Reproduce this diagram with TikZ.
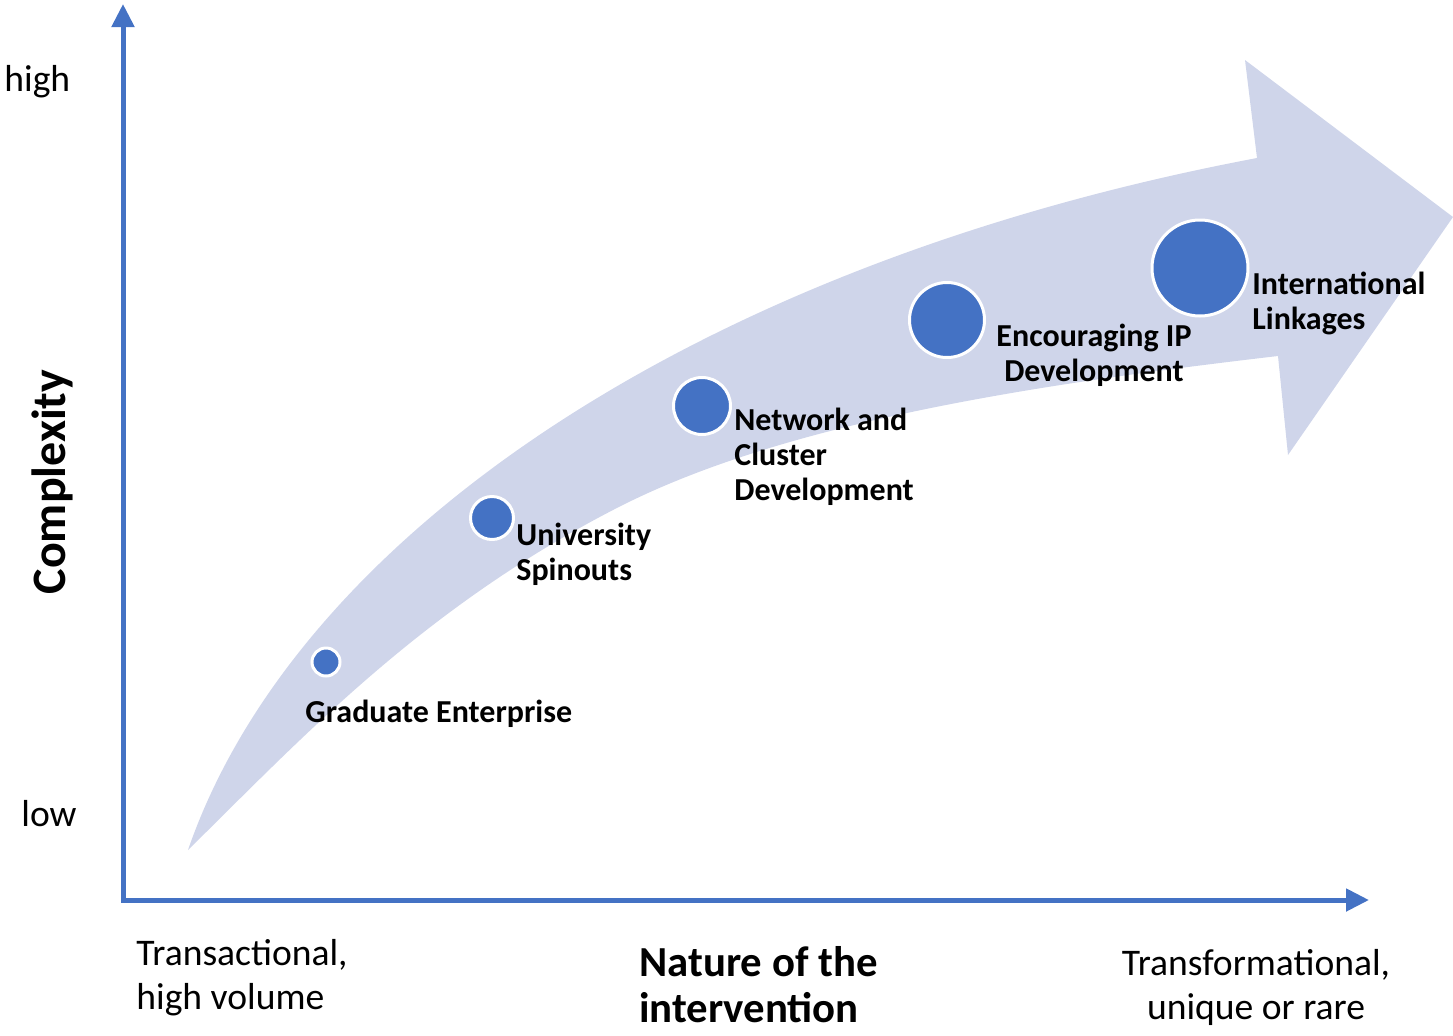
\documentclass[tikz,border=0pt]{standalone}
\usepackage{fontspec}
\setmainfont{Carlito}
\usepackage{xcolor}
\usetikzlibrary{arrows.meta}
\usetikzlibrary{positioning, calc}
\definecolor{axisblue}{RGB}{68,114,196}
\definecolor{bandfill}{RGB}{207,213,234}

\begin{document}
\begin{tikzpicture}[x=0.5pt, y=-0.5pt]
              \tikzstyle{stage} = [circle, fill=axisblue, draw=white, line width=1.5pt, inner sep=0pt]
              \tikzstyle{stagetext} = [anchor=west, align=left, inner sep=0pt, font=\fontsize{16}{17.5}\selectfont\bfseries]
              \tikzstyle{axistext} = [inner sep=0pt, font=\fontsize{18.8}{22}\selectfont]
              \useasboundingbox (0,0) rectangle (1453,1035);
              % curved arrow in the background
              \fill[bandfill] (188,850) .. controls (295,540) and (690,265) .. (1257,158) -- (1245,60) -- (1453,217) -- (1288,455) -- (1278,356) .. controls (1030,385) and (780,423) .. (613,510) .. controls (420,610) and (300,740) .. cycle;
              % axes
              \coordinate (origin) at (123,900);
              \coordinate (ytop) at (123,4);
              \coordinate (xend) at (1369,900);
              \draw[axisblue, line width=2.5pt, {Triangle[length=11.5pt,width=11pt]}-{Triangle[length=11.5pt,width=11pt]}] (ytop) -- (origin) -- (xend);
              % stages
              \node (grad) [stage, minimum size=14pt] at (326,662) {};
              \node (uni) [stage, minimum size=21.5pt] at (492,518) {};
              \node (net) [stage, minimum size=28.5pt] at (702,406) {};
              \node (ip) [stage, minimum size=37.5pt] at (947,320) {};
              \node (intl) [stage, minimum size=48pt] at (1200,268) {};
              \node (gradtext) [stagetext] at (305,714) {Graduate Enterprise};
              \node (unitext) [stagetext] at (516,554) {University\\Spinouts};
              \node (nettext) [stagetext] at (734,457) {Network and\\Cluster\\Development};
              \node (iptext) [stagetext, anchor=center, align=center] at (1094,355) {Encouraging IP\\Development};
              \node (intltext) [stagetext] at (1252,303) {International\\Linkages};
              % axis labels
              \node (high) [axistext, anchor=west] at (4,82) {high};
              \node (low) [axistext, anchor=west] at (21,814) {low};
              \node (complexity) [inner sep=0pt, rotate=90, font=\fontsize{24}{28}\selectfont\bfseries] at (52,482) {Complexity};
              \node (transact) [axistext, anchor=west, align=left] at (136,978) {Transactional,\\high volume};
              \node (nature) [inner sep=0pt, anchor=west, align=left, font=\fontsize{21.4}{23}\selectfont\bfseries] at (639,985) {Nature of the\\intervention};
              \node (transform) [axistext, align=center] at (1256,987) {Transformational,\\unique or rare};
            \end{tikzpicture}
\end{document}
